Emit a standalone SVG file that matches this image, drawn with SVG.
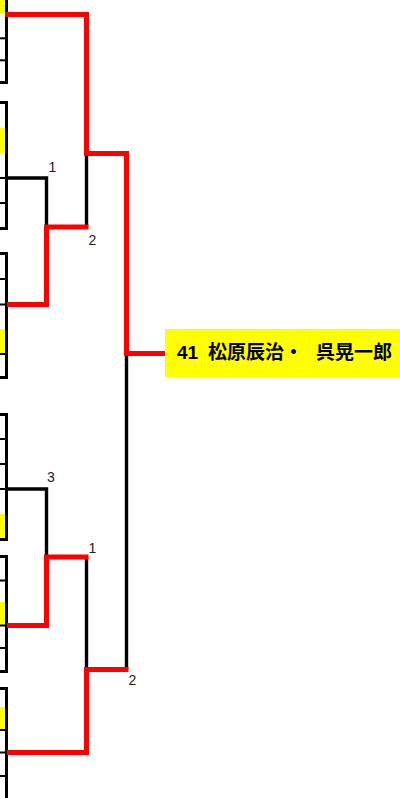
<svg xmlns="http://www.w3.org/2000/svg" width="400" height="798" viewBox="0 0 400 798">
<style>
.bk{fill:none;stroke:#000;stroke-width:3.4;stroke-linejoin:miter}
.rd{fill:none;stroke:#f00;stroke-width:5;stroke-linejoin:miter}
.sep{stroke:#000;stroke-width:2}
.bd{stroke:#000;stroke-width:3}
.hl{fill:#ff0}
.lbl{font-family:"Liberation Sans",Arial,sans-serif;font-size:14px;fill:#222}
.win{font-family:"Liberation Sans","Noto Sans CJK JP",sans-serif;font-size:19px;font-weight:bold;fill:#000}
</style>
<rect width="400" height="798" fill="#fff"/>
<g id="entries">
  <g id="groupA">
    <rect class="hl" x="0" y="0" width="5" height="13"/>
    <line class="bd" x1="6.5" y1="0" x2="6.5" y2="84"/>
    <line class="sep" x1="0" y1="38.3" x2="8" y2="38.3"/>
    <line class="sep" x1="0" y1="60.3" x2="8" y2="60.3"/>
    <line class="bd" x1="0" y1="82.5" x2="8" y2="82.5"/>
  </g>
  <g id="groupB">
    <rect class="hl" x="0" y="128" width="5" height="25"/>
    <line class="bd" x1="6.5" y1="101" x2="6.5" y2="230"/>
    <line class="bd" x1="0" y1="102.5" x2="8" y2="102.5"/>
    <line class="sep" x1="0" y1="178" x2="8" y2="178"/>
    <line class="sep" x1="0" y1="203" x2="8" y2="203"/>
    <line class="bd" x1="0" y1="228.5" x2="8" y2="228.5"/>
  </g>
  <g id="groupC">
    <rect class="hl" x="0" y="329" width="5" height="24"/>
    <line class="bd" x1="6.5" y1="252" x2="6.5" y2="379"/>
    <line class="bd" x1="0" y1="253.5" x2="8" y2="253.5"/>
    <line class="sep" x1="0" y1="279" x2="8" y2="279"/>
    <line class="sep" x1="0" y1="304.5" x2="8" y2="304.5"/>
    <line class="sep" x1="0" y1="354" x2="8" y2="354"/>
    <line class="bd" x1="0" y1="377.5" x2="8" y2="377.5"/>
  </g>
  <g id="groupD">
    <rect class="hl" x="0" y="514" width="5" height="25"/>
    <line class="bd" x1="6.5" y1="413" x2="6.5" y2="541"/>
    <line class="bd" x1="0" y1="414.5" x2="8" y2="414.5"/>
    <line class="sep" x1="0" y1="439" x2="8" y2="439"/>
    <line class="sep" x1="0" y1="464" x2="8" y2="464"/>
    <line class="sep" x1="0" y1="489" x2="8" y2="489"/>
    <line class="bd" x1="0" y1="539.5" x2="8" y2="539.5"/>
  </g>
  <g id="groupE">
    <rect class="hl" x="0" y="602" width="5" height="22"/>
    <line class="bd" x1="6.5" y1="555" x2="6.5" y2="673"/>
    <line class="bd" x1="0" y1="556.5" x2="8" y2="556.5"/>
    <line class="sep" x1="0" y1="580.5" x2="8" y2="580.5"/>
    <line class="sep" x1="0" y1="625.5" x2="8" y2="625.5"/>
    <line class="sep" x1="0" y1="648" x2="8" y2="648"/>
    <line class="bd" x1="0" y1="671.5" x2="8" y2="671.5"/>
  </g>
  <g id="groupF">
    <rect class="hl" x="0" y="707" width="5" height="22"/>
    <line class="bd" x1="6.5" y1="687" x2="6.5" y2="798"/>
    <line class="bd" x1="0" y1="688.5" x2="8" y2="688.5"/>
    <line class="sep" x1="0" y1="730" x2="8" y2="730"/>
    <line class="sep" x1="0" y1="752.5" x2="8" y2="752.5"/>
    <line class="sep" x1="0" y1="776" x2="8" y2="776"/>
  </g>
</g>
<g id="connectors">
  <path class="bk" d="M7,178 H46.5 V227"/>
  <path class="bk" d="M86.5,153.5 V227"/>
  <path class="bk" d="M7,489 H46.5 V557"/>
  <path class="bk" d="M86.5,557 V669.5"/>
  <path class="bk" d="M126.5,353.5 V669.5"/>
  <path class="rd" d="M5,14.5 H86.5 V153.5 H126.5 V353.5 H165"/>
  <path class="rd" d="M7,304.5 H46.5 V227 H88.5"/>
  <path class="rd" d="M7,625.5 H46.5 V557 H88.5"/>
  <path class="rd" d="M7,752.5 H86.5 V669.5 H128.5"/>
</g>
<g id="scores">
  <text class="lbl" x="48.5" y="172">1</text>
  <text class="lbl" x="88.5" y="245">2</text>
  <text class="lbl" x="47" y="482">3</text>
  <text class="lbl" x="88.5" y="553">1</text>
  <text class="lbl" x="128.5" y="685">2</text>
</g>
<g id="winner">
  <rect class="hl" x="165" y="329" width="235" height="48"/>
  <text class="win" y="359"><tspan x="177">41</tspan><tspan x="208">松原辰治・</tspan><tspan x="316">呉晃一郎</tspan></text>
</g>
</svg>
